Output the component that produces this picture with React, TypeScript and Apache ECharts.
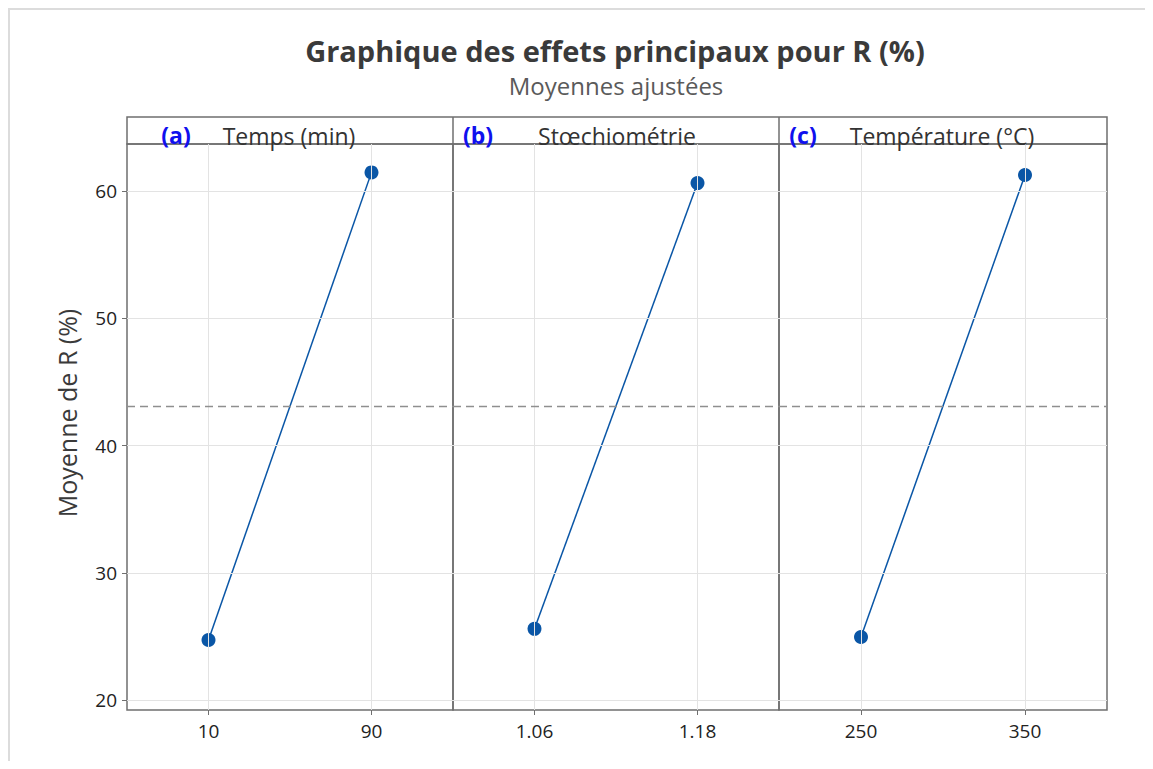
import React, { useEffect, useRef } from "react";
import * as echarts from "echarts";

const factorNames = ["Temps (min)", "Stœchiométrie", "Température (°C)"];
const panelTags = ["(a)", "(b)", "(c)"];
const levelsA = ["10", "90"];
const levelsB = ["1.06", "1.18"];
const levelsC = ["250", "350"];
const meansA = [24.72, 61.47];
const meansB = [25.6, 60.63];
const meansC = [24.96, 61.26];
const grandMean = 43.1;
const yTicks = [20, 30, 40, 50, 60];
const titleText = "Graphique des effets principaux pour R (%)";
const subtitleText = "Moyennes ajustées";
const yAxisTitle = "Moyenne de R (%)";

const FONT = "'Open Sans', 'Noto Sans', sans-serif";
const BORDER = "#6f6f6f";
const BLUE = "#0a56a6";

export default function App() {
  const ref = useRef<HTMLDivElement>(null);
  useEffect(() => {
    if (!ref.current) return;
    const chart = echarts.init(ref.current, null, { renderer: "svg" });
    const levels = [levelsA, levelsB, levelsC];
    const means = [meansA, meansB, meansC];
    const lefts = [119, 445, 771];
    const widths = [326, 326, 328];
    const top = 136;
    const height = 566;
    const yMin = 19.22;
    const yMax = 63.7;

    const grid = lefts.map((l, i) => ({
      left: l,
      top,
      width: widths[i],
      height,
      show: true,
      borderColor: BORDER,
      borderWidth: 1.5,
      backgroundColor: "transparent",
    }));
    const xAxis = levels.map((lv, i) => ({
      type: "category",
      gridIndex: i,
      data: lv,
      boundaryGap: true,
      axisLine: { show: false },
      axisTick: { show: true, alignWithLabel: true, length: 5, lineStyle: { color: BORDER } },
      axisLabel: { color: "#222222", fontSize: 19, fontFamily: FONT, margin: 11 },
      splitLine: { show: false },
    }));
    const yAxis = levels.map((_, i) => ({
      type: "value",
      gridIndex: i,
      min: yMin,
      max: yMax,
      axisLine: { show: false },
      axisTick: i === 0
        ? { show: true, length: 5, customValues: yTicks, lineStyle: { color: BORDER } }
        : { show: false },
      axisLabel: i === 0
        ? { show: true, customValues: yTicks, color: "#222222", fontSize: 19, fontFamily: FONT, margin: 10 }
        : { show: false },
      splitLine: { show: false },
    }));

    const series: any[] = [];
    levels.forEach((lv, i) => {
      series.push({
        type: "line",
        xAxisIndex: i,
        yAxisIndex: i,
        data: means[i],
        showSymbol: false,
        lineStyle: { opacity: 0 },
        silent: true,
        z: 1,
        markLine: {
          silent: true,
          symbol: "none",
          label: { show: false },
          lineStyle: { color: "#e3e3e3", type: "solid", width: 1 },
          data: [
            ...yTicks.map((v) => ({ yAxis: v })),
            ...lv.map((c) => ({ xAxis: c })),
          ],
        },
      });
      series.push({
        type: "line",
        xAxisIndex: i,
        yAxisIndex: i,
        data: means[i],
        symbol: "circle",
        symbolSize: 14,
        itemStyle: { color: BLUE },
        lineStyle: { color: BLUE, width: 1.5 },
        z: 3,
        markLine: {
          silent: true,
          symbol: "none",
          label: { show: false },
          lineStyle: { color: "#8f8f8f", type: [8, 5], width: 1.3 },
          data: [{ yAxis: grandMean }],
        },
      });
    });

    const headerTexts: any[] = [];
    const tagX = [168, 470, 795];
    const nameX = [281, 609, 934];
    factorNames.forEach((n, i) => {
      headerTexts.push({
        type: "text",
        x: tagX[i],
        y: 127,
        style: {
          text: panelTags[i],
          fill: "#1010ee",
          font: `bold 23px ${FONT}`,
          textAlign: "center",
          textVerticalAlign: "middle",
        },
        z: 10,
      });
      headerTexts.push({
        type: "text",
        x: nameX[i],
        y: 128,
        style: {
          text: n,
          fill: "#333333",
          font: `23px ${FONT}`,
          textAlign: "center",
          textVerticalAlign: "middle",
        },
        z: 10,
      });
    });

    chart.setOption({
      animation: false,
      backgroundColor: "#ffffff",
      grid,
      xAxis,
      yAxis,
      series,
      graphic: [
        {
          type: "polyline",
          shape: { points: [[1, 753], [1, 1], [1145, 1]] },
          style: { stroke: "#dcdcdc", lineWidth: 2, fill: "none" },
        },
        {
          type: "rect",
          shape: { x: 119, y: 109, width: 980, height: 27 },
          style: { stroke: BORDER, lineWidth: 1.5, fill: "none" },
        },
        {
          type: "line",
          shape: { x1: 445, y1: 109, x2: 445, y2: 136 },
          style: { stroke: BORDER, lineWidth: 1.5 },
        },
        {
          type: "line",
          shape: { x1: 771, y1: 109, x2: 771, y2: 136 },
          style: { stroke: BORDER, lineWidth: 1.5 },
        },
        {
          type: "text",
          x: 607,
          y: 42,
          style: {
            text: titleText,
            fill: "#3a3a3a",
            font: `bold 29px ${FONT}`,
            textAlign: "center",
            textVerticalAlign: "middle",
          },
        },
        {
          type: "text",
          x: 608,
          y: 77,
          style: {
            text: subtitleText,
            fill: "#5a5a5a",
            font: `24px ${FONT}`,
            textAlign: "center",
            textVerticalAlign: "middle",
          },
        },
        {
          type: "text",
          x: 59,
          y: 405,
          rotation: Math.PI / 2,
          style: {
            text: yAxisTitle,
            fill: "#3a3a3a",
            font: `25px ${FONT}`,
            textAlign: "center",
            textVerticalAlign: "middle",
          },
        },
        ...headerTexts,
      ],
    });
    return () => chart.dispose();
  }, []);
  return <div ref={ref} style={{ width: 1145, height: 753 }} />;
}
